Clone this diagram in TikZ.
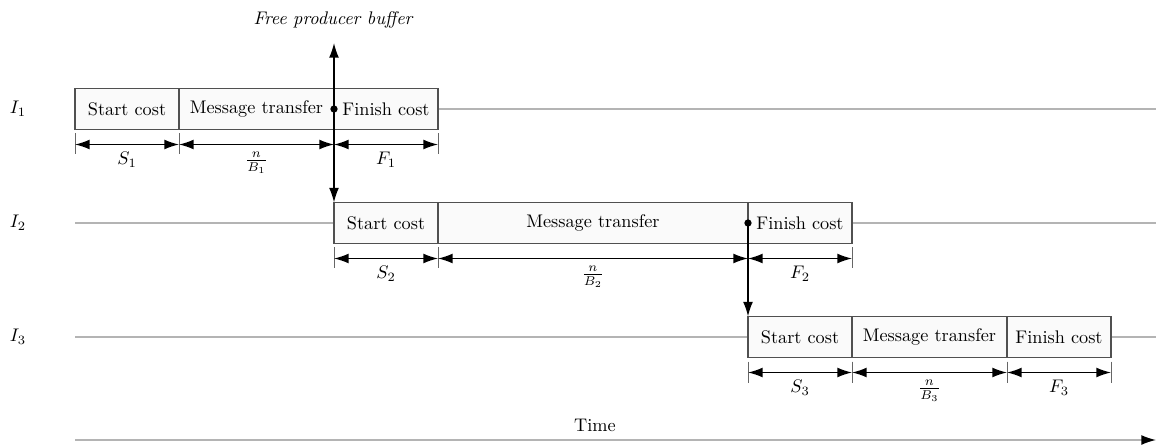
\documentclass[tikz,border=0pt]{standalone}
\usetikzlibrary{arrows.meta,calc}
\definecolor{lanegray}{HTML}{B4B4B4}
\definecolor{boxfill}{HTML}{FAFAFA}
\definecolor{boxline}{HTML}{505050}
\begin{document}
\begin{tikzpicture}[x=0.548pt,y=-0.548pt,
  seg/.style={draw=boxline, fill=boxfill, line width=0.6pt,
    minimum width=#1*0.548pt, minimum height=41*0.548pt,
    inner sep=0pt, outer sep=0pt, anchor=west},
  lane/.style={draw=lanegray, line width=0.8pt},
  head/.tip={Latex[length=8pt,width=5.4pt]},
  tip/.style={-head, line width=0.8pt},
  dim/.style={head-head, line width=0.8pt},
  tickline/.style={draw=black!60, line width=0.5pt},
  dot/.style={circle, fill=black, inner sep=0pt, minimum size=4pt},
  lanelabel/.style={inner sep=0pt}
]
\useasboundingbox (0,0) rectangle (1156,445);

% lane names
\node[lanelabel] (l1) at (18,109) {$I_1$};
\node[lanelabel] (l2) at (18,223) {$I_2$};
\node[lanelabel] (l3) at (18,337) {$I_3$};

% lane guide lines, behind the boxes
\coordinate (e1) at (1156,109);
\coordinate (e2) at (1156,223);
\coordinate (e3) at (1156,337);
\coordinate (b1) at (75,109);
\coordinate (b2) at (75,223);
\coordinate (b3) at (75,337);
\draw[lane] (b1) -- (e1);
\draw[lane] (b2) -- (e2);
\draw[lane] (b3) -- (e3);

% row 1
\node[seg=104] (s1) at (75,109) {Start cost};
\node[seg=155] (m1) at (s1.east) {Message transfer};
\node[seg=104] (f1) at (m1.east) {Finish cost};
% row 2
\node[seg=104] (s2) at (334,223) {Start cost};
\node[seg=310] (m2) at (s2.east) {Message transfer};
\node[seg=104] (f2) at (m2.east) {Finish cost};
% row 3
\node[seg=104] (s3) at (748,337) {Start cost};
\node[seg=155] (m3) at (s3.east) {Message transfer};
\node[seg=104] (f3) at (m3.east) {Finish cost};

% duration dimensions below each segment
\foreach \b/\lab in {s1/{$S_1$}, m1/{$\frac{n}{B_1}$}, f1/{$F_1$},
                     s2/{$S_2$}, m2/{$\frac{n}{B_2}$}, f2/{$F_2$},
                     s3/{$S_3$}, m3/{$\frac{n}{B_3}$}, f3/{$F_3$}}{
  \draw[tickline] ($(\b.south west)+(0,4)$) -- ++(0,21);
  \draw[tickline] ($(\b.south east)+(0,4)$) -- ++(0,21);
  \draw[dim] ($(\b.south west)+(0,15)$) -- ($(\b.south east)+(0,15)$)
    node[midway, below=0.5pt] {\lab};
}

% buffer release events
\node[dot] (d1) at (m1.east) {};
\node[dot] (d2) at (m2.east) {};
\node[font=\itshape] (fpb) at (333,20) {Free producer buffer};
\coordinate (up1) at (334,43);
\draw[tip] (d1.center) -- (up1);
\draw[tip] (d1.center) -- (s2.north west);
\draw[tip] (d2.center) -- (s3.north west);

% time axis
\coordinate (t0) at (75,440);
\coordinate (t1) at (1156,440);
\draw[lane, -{Latex[length=8pt,width=5.4pt,color=black]}] (t0) -- (t1);
\node (time) at (595,425) {Time};
\end{tikzpicture}
\end{document}
